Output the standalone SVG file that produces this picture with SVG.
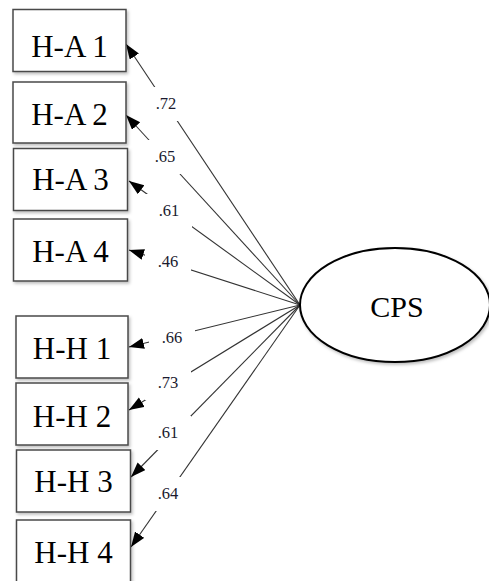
<svg xmlns="http://www.w3.org/2000/svg" width="489" height="581" viewBox="0 0 489 581">
  <defs>
    <style>
      .box { fill: #ffffff; stroke: #4a4a4a; stroke-width: 1.5; filter: url(#shadow); }
      .node-text { font-family: "Liberation Serif", "Times New Roman", serif; font-size: 31px; fill: #000000; text-anchor: middle; }
      .conn { stroke: #333333; stroke-width: 1.1; fill: none; marker-end: url(#arrow); }
      .lbl-bg { fill: #ffffff; stroke: none; }
      .lbl { font-family: "Liberation Serif", "Times New Roman", serif; font-size: 16.5px; fill: #1a1a2e; text-anchor: middle; }
    </style>
    <marker id="arrow" markerUnits="userSpaceOnUse" markerWidth="16" markerHeight="12" refX="15" refY="5.5" orient="auto">
      <path d="M0,0 L15,5.5 L0,11 Z" fill="#000000"/>
    </marker>
    <filter id="shadow" x="-10%" y="-10%" width="125%" height="130%">
      <feDropShadow dx="1.5" dy="2" stdDeviation="1.5" flood-color="#000000" flood-opacity="0.25"/>
    </filter>
  </defs>

  <g id="connectors">
    <line class="conn" x1="300" y1="305" x2="126" y2="44"/>
    <line class="conn" x1="300" y1="305" x2="126" y2="115"/>
    <line class="conn" x1="300" y1="305" x2="129" y2="181"/>
    <line class="conn" x1="300" y1="305" x2="129" y2="250"/>
    <line class="conn" x1="300" y1="305" x2="129" y2="347"/>
    <line class="conn" x1="300" y1="305" x2="129" y2="410"/>
    <line class="conn" x1="300" y1="305" x2="131" y2="477"/>
    <line class="conn" x1="300" y1="305" x2="131" y2="547"/>
    <g id="labels">
      <rect class="lbl-bg" x="143" y="87" width="46" height="34"/>
      <text class="lbl" x="166" y="109">.72</text>
      <rect class="lbl-bg" x="142" y="140" width="46" height="34"/>
      <text class="lbl" x="165" y="162">.65</text>
      <rect class="lbl-bg" x="146" y="194" width="46" height="34"/>
      <text class="lbl" x="169" y="216">.61</text>
      <rect class="lbl-bg" x="145" y="245" width="46" height="34"/>
      <text class="lbl" x="168" y="267">.46</text>
      <rect class="lbl-bg" x="149" y="321" width="46" height="34"/>
      <text class="lbl" x="172" y="343">.66</text>
      <rect class="lbl-bg" x="145" y="366" width="46" height="34"/>
      <text class="lbl" x="168" y="388">.73</text>
      <rect class="lbl-bg" x="145" y="416" width="46" height="34"/>
      <text class="lbl" x="168" y="438">.61</text>
      <rect class="lbl-bg" x="145" y="477" width="46" height="34"/>
      <text class="lbl" x="168" y="499">.64</text>
    </g>
  </g>

  <g id="node-ha1">
    <rect class="box" x="13" y="9.5" width="113" height="62"/>
    <text class="node-text" x="69.5" y="57">H-A 1</text>
  </g>
  <g id="node-ha2">
    <rect class="box" x="13" y="82" width="113" height="61"/>
    <text class="node-text" x="69.5" y="125">H-A 2</text>
  </g>
  <g id="node-ha3">
    <rect class="box" x="13.5" y="148.5" width="114" height="62"/>
    <text class="node-text" x="70.5" y="190">H-A 3</text>
  </g>
  <g id="node-ha4">
    <rect class="box" x="13.5" y="219" width="114" height="62"/>
    <text class="node-text" x="70.5" y="262">H-A 4</text>
  </g>
  <g id="node-hh1">
    <rect class="box" x="16" y="316" width="112" height="62"/>
    <text class="node-text" x="72" y="359">H-H 1</text>
  </g>
  <g id="node-hh2">
    <rect class="box" x="16" y="383" width="112" height="62"/>
    <text class="node-text" x="72" y="427">H-H 2</text>
  </g>
  <g id="node-hh3">
    <rect class="box" x="16.5" y="450" width="114" height="62"/>
    <text class="node-text" x="73.5" y="492">H-H 3</text>
  </g>
  <g id="node-hh4">
    <rect class="box" x="16.5" y="520" width="114" height="70"/>
    <text class="node-text" x="73.5" y="563">H-H 4</text>
  </g>

  <g id="node-cps">
    <ellipse cx="395" cy="305" rx="95" ry="57" fill="#ffffff" stroke="#000000" stroke-width="2" filter="url(#shadow)"/>
    <text class="node-text" x="397" y="317" style="font-size:30px">CPS</text>
  </g>
</svg>
